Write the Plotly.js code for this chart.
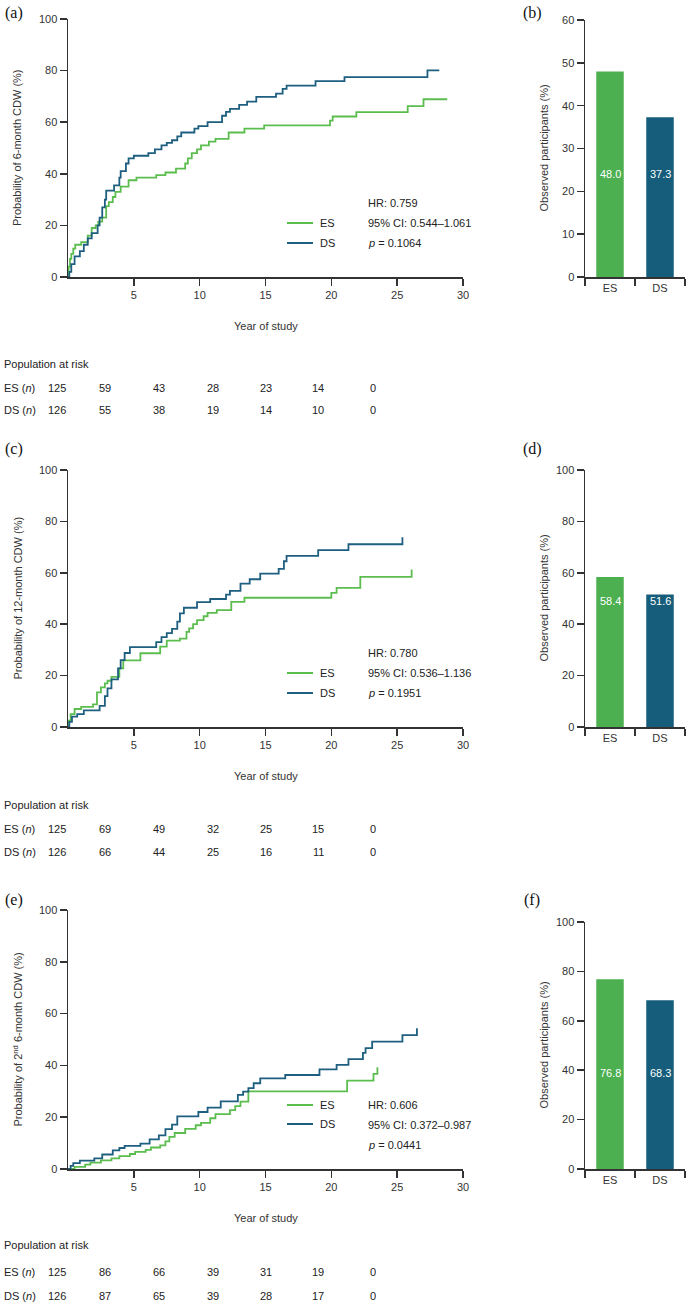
<!DOCTYPE html>
<html><head><meta charset="utf-8">
<script src="https://cdn.plot.ly/plotly-3.0.1.min.js"></script>
<style>html,body{margin:0;padding:0;background:#fff}#chart{width:688px;height:1307px}</style>
</head><body><div id="chart"></div>
<script>
// ---------- DATA ----------
const yearTicks = [5, 10, 15, 20, 25, 30];
const riskYears = [0, 5, 10, 15, 20, 25, 30];
const groups = ['ES', 'DS'];

// (a) 6-month CDW
const esA_t = [0, 0.05, 0.15, 0.25, 0.4, 0.55, 1.0, 1.5, 1.8, 2.1, 2.3, 2.6, 2.9, 3.1, 3.4, 3.6, 4.0, 4.6, 5.2, 6.7, 7.4, 8.2, 8.9, 9.1, 9.4, 9.8, 10.1, 10.7, 11.2, 12.2, 13.4, 14.9, 19.9, 20.1, 21.9, 25.8, 27.0, 28.8];
const esA_p = [0, 4, 7, 9, 11, 12.5, 13.5, 16, 19, 20, 21.5, 23, 27.5, 29, 31, 33, 35, 37.5, 38.5, 39.5, 40.5, 42, 44, 46, 48, 49.5, 51, 52.5, 53.5, 56, 57.5, 58.8, 60.6, 62.2, 63.9, 66.2, 68.9, 68.9];
const dsA_t = [0, 0.1, 0.25, 0.5, 0.9, 1.2, 1.5, 1.8, 2.25, 2.4, 2.6, 2.8, 2.9, 3.5, 3.9, 4.0, 4.4, 4.6, 5.0, 6.1, 6.6, 7.1, 7.5, 7.9, 8.3, 8.6, 9.6, 9.9, 10.6, 11.7, 12.0, 12.3, 13.0, 13.6, 14.3, 15.8, 16.3, 16.6, 18.8, 21.0, 27.3, 28.2];
const dsA_p = [0, 2, 5, 8, 10, 12.5, 15, 17, 20, 23, 27, 30, 33.5, 35.5, 38.5, 41, 44, 46, 47, 48, 49.5, 51, 52, 53, 54.5, 56, 57.5, 58.5, 60, 62.5, 64, 65.2, 66.7, 68, 69.8, 71.1, 72.9, 74.2, 75.9, 77.5, 80.1, 80.1];

// (c) 12-month CDW
const esC_t = [0, 0.05, 0.2, 0.5, 1.0, 1.9, 2.2, 2.5, 2.8, 3.0, 3.3, 3.9, 4.2, 5.5, 7.0, 7.5, 8.5, 9.0, 9.2, 9.5, 9.8, 10.3, 10.6, 11.3, 12.4, 13.4, 20.0, 20.4, 22.2, 26.1];
const esC_p = [0, 2.5, 5, 7, 7.8, 8.8, 13.5, 15.4, 17, 18, 19.5, 22.8, 25.9, 28.7, 31.3, 33.6, 34.4, 37, 38.4, 40, 41.6, 43.1, 44.4, 45.5, 48.7, 50.3, 52.2, 54.1, 58.4, 61.3];
const dsC_t = [0, 0.1, 0.3, 0.7, 1.2, 2.4, 2.8, 3.0, 3.3, 3.8, 4.0, 4.3, 4.7, 6.7, 7.1, 7.5, 7.9, 8.3, 8.5, 8.8, 9.8, 10.8, 12.0, 12.3, 13.1, 13.8, 14.6, 16.0, 16.4, 16.6, 19.0, 21.3, 25.4];
const dsC_p = [0, 2, 4, 5, 6.5, 8.2, 12, 15, 18.5, 22.8, 26, 28.8, 31.1, 33, 35, 36.5, 38.2, 41, 44.2, 46.4, 48.6, 49.8, 51.5, 53, 55.8, 57.5, 59.7, 61.5, 64.5, 66.6, 68.8, 71.1, 73.8];

// (e) 2nd 6-month CDW
const esE_t = [0, 0.5, 1.3, 1.7, 2.5, 3.3, 3.9, 4.7, 5.1, 5.9, 6.3, 7.0, 7.4, 7.7, 8.1, 8.9, 9.7, 10.1, 10.8, 11.2, 12.3, 12.7, 13.1, 13.7, 21.2, 23.2, 23.5];
const esE_p = [0, 0.8, 1.7, 2.5, 3.3, 4.1, 5.0, 5.8, 6.6, 7.4, 8.3, 9.1, 10.7, 12.4, 13.9, 15.5, 16.9, 17.8, 19.6, 21.2, 22.7, 24.3, 26.0, 30.0, 34.1, 36.7, 39.3];
const dsE_t = [0, 0.2, 0.4, 0.9, 2.0, 2.6, 3.4, 3.9, 4.3, 5.5, 6.2, 6.9, 7.4, 7.9, 8.3, 9.9, 10.6, 11.6, 12.9, 13.3, 13.7, 14.1, 14.6, 16.5, 19.1, 20.4, 21.3, 22.4, 22.6, 23.1, 25.4, 26.5];
const dsE_p = [0, 1.2, 2.3, 3.2, 4.1, 5.6, 7.2, 8.1, 8.9, 9.8, 11.4, 13.0, 15.4, 17.1, 20.3, 22.0, 23.7, 26.1, 28.6, 29.9, 31.2, 33.1, 35.0, 36.3, 38.5, 40.2, 42.4, 44.8, 46.7, 49.2, 51.7, 54.3];

// Observed participants (%)
const obsB = [48.0, 37.3];
const obsD = [58.4, 51.6];
const obsF = [76.8, 68.3];

// Population at risk
const riskA_ES = [125, 59, 43, 28, 23, 14, 0];
const riskA_DS = [126, 55, 38, 19, 14, 10, 0];
const riskC_ES = [125, 69, 49, 32, 25, 15, 0];
const riskC_DS = [126, 66, 44, 25, 16, 11, 0];
const riskE_ES = [125, 86, 66, 39, 31, 19, 0];
const riskE_DS = [126, 87, 65, 39, 28, 17, 0];

const statsA = ['HR: 0.759', '95% CI: 0.544\u20131.061', '<i>p</i> = 0.1064'];
const statsC = ['HR: 0.780', '95% CI: 0.536\u20131.136', '<i>p</i> = 0.1951'];
const statsE = ['HR: 0.606', '95% CI: 0.372\u20130.987', '<i>p</i> = 0.0441'];

// ---------- STYLE / LAYOUT ----------
const W = 688, H = 1307;
const X = px => px / W;
const Y = py => 1 - py / H;
const ES_LINE = '#5cbd4f', DS_LINE = '#1e5f80';
const ES_BAR = '#4caf50', DS_BAR = '#155d7a';
const AX = '#333333';
const FONT = 'Liberation Sans, Arial, sans-serif';
const SERIF = 'Liberation Serif, Times New Roman, serif';

const KM_X0 = 68, KM_X1 = 463;
const BAR_X0 = 585, BAR_X1 = 685;
const RISK_COLS = [57, 105, 159, 213, 266, 318, 373];
const panels = [
  {km: [19, 277], bar: [20, 277], barMax: 60, barDtick: 10, letterKM: '(a)', letterBar: '(b)', letterY: 13,
   es: [esA_t, esA_p], ds: [dsA_t, dsA_p], obs: obsB, obsLabelY: 24,
   ytitle: 'Probability of 6-month CDW (%)', stats: statsA, statY: 203, legY: [223, 243],
   yearY: 326, risk: [riskA_ES, riskA_DS], riskY: [364, 388, 410]},
  {km: [470, 727], bar: [470, 727], barMax: 100, barDtick: 20, letterKM: '(c)', letterBar: '(d)', letterY: 449,
   es: [esC_t, esC_p], ds: [dsC_t, dsC_p], obs: obsD, obsLabelY: 49,
   ytitle: 'Probability of 12-month CDW (%)', stats: statsC, statY: 653, legY: [673, 693],
   yearY: 776, risk: [riskC_ES, riskC_DS], riskY: [805, 829, 852]},
  {km: [910, 1169], bar: [922, 1169], barMax: 100, barDtick: 20, letterKM: '(e)', letterBar: '(f)', letterY: 900,
   es: [esE_t, esE_p], ds: [dsE_t, dsE_p], obs: obsF, obsLabelY: 39,
   ytitle: 'Probability of 2<sup>nd</sup> 6-month CDW (%)', stats: statsE, statY: 1105, legY: [1105, 1124],
   yearY: 1218, risk: [riskE_ES, riskE_DS], riskY: [1245, 1272, 1296]}
];

const axBase = {
  showline: true, linecolor: AX, linewidth: 1.5, ticks: 'outside', ticklen: 7, tickwidth: 1.5,
  tickcolor: AX, showgrid: false, zeroline: false, fixedrange: true,
  tickfont: {family: FONT, size: 11, color: '#333'}
};

const data = [];
const layout = {
  width: W, height: H, margin: {l: 0, r: 0, t: 0, b: 0},
  paper_bgcolor: '#fff', plot_bgcolor: 'rgba(0,0,0,0)', showlegend: false,
  annotations: [], shapes: []
};
const ann = (px, py, text, opts) => Object.assign({
  xref: 'paper', yref: 'paper', x: X(px), y: Y(py), text: text, showarrow: false,
  xanchor: 'left', yanchor: 'middle', font: {family: FONT, size: 11, color: '#222'}
}, opts || {});

panels.forEach((p, i) => {
  const kx = 2 * i + 1, bx = 2 * i + 2;
  const kxa = 'x' + kx, kya = 'y' + kx, bxa = 'x' + bx, bya = 'y' + bx;
  const kxs = 'xaxis' + (kx === 1 ? '' : kx), kys = 'yaxis' + (kx === 1 ? '' : kx);
  layout[kxs] = Object.assign({}, axBase, {
    domain: [X(KM_X0), X(KM_X1)], anchor: kya, range: [0, 30], tickvals: yearTicks
  });
  layout[kys] = Object.assign({}, axBase, {
    domain: [Y(p.km[1]), Y(p.km[0])], anchor: kxa, range: [0, 100], tickvals: [0, 20, 40, 60, 80, 100]
  });
  layout['xaxis' + bx] = Object.assign({}, axBase, {
    domain: [X(BAR_X0), X(BAR_X1)], anchor: bya, type: 'category', tickson: 'boundaries',
    categoryorder: 'array', categoryarray: groups, range: [-0.5, 1.5]
  });
  const bt = [];
  for (let v = 0; v <= p.barMax; v += p.barDtick) bt.push(v);
  layout['yaxis' + bx] = Object.assign({}, axBase, {
    domain: [Y(p.bar[1]), Y(p.bar[0])], anchor: bxa, range: [0, p.barMax], tickvals: bt
  });

  data.push({type: 'scatter', mode: 'lines', x: p.es[0], y: p.es[1], xaxis: kxa, yaxis: kya,
    line: {shape: 'hv', color: ES_LINE, width: 1.8}, name: 'ES'});
  data.push({type: 'scatter', mode: 'lines', x: p.ds[0], y: p.ds[1], xaxis: kxa, yaxis: kya,
    line: {shape: 'hv', color: DS_LINE, width: 1.8}, name: 'DS'});
  data.push({type: 'bar', x: groups, y: p.obs, xaxis: bxa, yaxis: bya,
    marker: {color: [ES_BAR, DS_BAR]}, width: 0.55, hoverinfo: 'none'});

  // bar value labels
  p.obs.forEach((v, j) => layout.annotations.push({
    xref: bxa, yref: bya, x: groups[j], y: p.obsLabelY, text: v.toFixed(1), showarrow: false,
    font: {family: FONT, size: 11, color: '#ffffff'}
  }));

  // panel letters
  layout.annotations.push(ann(14, p.letterY, p.letterKM, {xanchor: 'center', font: {family: SERIF, size: 16, color: '#111'}}));
  layout.annotations.push(ann(532, p.letterY, p.letterBar, {xanchor: 'center', font: {family: SERIF, size: 16, color: '#111'}}));

  // axis titles
  layout.annotations.push(ann(17, (p.km[0] + p.km[1]) / 2, p.ytitle, {xanchor: 'center', textangle: -90, font: {family: FONT, size: 11, color: '#333'}}));
  layout.annotations.push(ann(543, (p.bar[0] + p.bar[1]) / 2, 'Observed participants (%)', {xanchor: 'center', textangle: -90, font: {family: FONT, size: 11, color: '#333'}}));
  layout.annotations.push(ann((KM_X0 + KM_X1) / 2, p.yearY, 'Year of study', {xanchor: 'center', font: {family: FONT, size: 11, color: '#333'}}));

  // stats text
  p.stats.forEach((s, j) => layout.annotations.push(ann(366, p.statY + 20 * j, s)));

  // legend
  [['ES', ES_LINE], ['DS', DS_LINE]].forEach((g, j) => {
    const ly = p.legY[j];
    layout.shapes.push({type: 'line', xref: 'paper', yref: 'paper', x0: X(287), x1: X(313), y0: Y(ly), y1: Y(ly),
      line: {color: g[1], width: 2}});
    layout.annotations.push(ann(318, ly, g[0]));
  });

  // risk table
  const rf = {family: FONT, size: 11, color: '#222'};
  layout.annotations.push(ann(2, p.riskY[0], 'Population at risk', {font: rf}));
  const rowLabels = ['ES (<i>n</i>)', 'DS (<i>n</i>)'];
  p.risk.forEach((row, r) => {
    const ry = p.riskY[r + 1];
    layout.annotations.push(ann(2, ry, rowLabels[r], {font: rf}));
    row.forEach((n, c) => {
      layout.annotations.push(ann(RISK_COLS[c], ry, String(n), {xanchor: 'center', font: rf}));
    });
  });
});

Plotly.newPlot('chart', data, layout, {staticPlot: true, displayModeBar: false});
</script>
</body></html>
